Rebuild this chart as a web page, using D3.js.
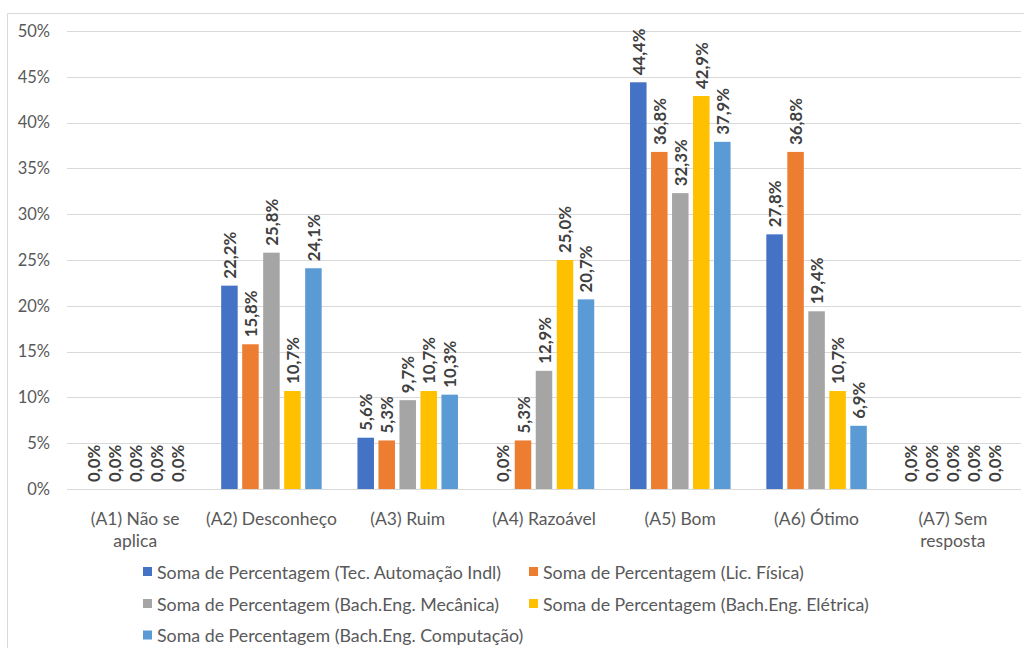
<!DOCTYPE html>
<html>
<head>
<meta charset="utf-8">
<script src="https://cdn.jsdelivr.net/npm/d3@7/dist/d3.min.js"></script>
<style>
  html, body { margin: 0; padding: 0; background: #ffffff; }
  svg { display: block; }
  text { font-family: Lato, "Open Sans", sans-serif; }
</style>
</head>
<body>
<svg id="chart" width="1024" height="648"></svg>
<script>
const categories = [
  ["(A1) Não se", "aplica"],
  ["(A2) Desconheço"],
  ["(A3) Ruim"],
  ["(A4) Razoável"],
  ["(A5) Bom"],
  ["(A6) Ótimo"],
  ["(A7) Sem", "resposta"]
];
const seriesNames = [
  "Soma de Percentagem (Tec. Automação Indl)",
  "Soma de Percentagem (Lic. Física)",
  "Soma de Percentagem (Bach.Eng. Mecânica)",
  "Soma de Percentagem (Bach.Eng. Elétrica)",
  "Soma de Percentagem (Bach.Eng. Computação)"
];
const tecAutomacao = [0.0, 22.2, 5.6, 0.0, 44.4, 27.8, 0.0];
const licFisica    = [0.0, 15.8, 5.3, 5.3, 36.8, 36.8, 0.0];
const engMecanica  = [0.0, 25.8, 9.7, 12.9, 32.3, 19.4, 0.0];
const engEletrica  = [0.0, 10.7, 10.7, 25.0, 42.9, 10.7, 0.0];
const engComputacao= [0.0, 24.1, 10.3, 20.7, 37.9, 6.9, 0.0];
const seriesValues = [tecAutomacao, licFisica, engMecanica, engEletrica, engComputacao];
const yTicks = [0, 5, 10, 15, 20, 25, 30, 35, 40, 45, 50];
const colors = ["#4472C4", "#ED7D31", "#A5A5A5", "#FFC000", "#5B9BD5"];

const svg = d3.select("#chart");

// chart border
svg.append("path")
  .attr("d", "M7.5,660 V13.5 H1030")
  .attr("fill", "none")
  .attr("stroke", "#d9d9d9")
  .attr("stroke-width", 1);

const plot = { left: 67, right: 1021, top: 31, bottom: 489 };

const x = d3.scaleBand()
  .domain(d3.range(categories.length))
  .range([plot.left, plot.right])
  .paddingInner(0).paddingOuter(0);

const groupWidth = 100.5;
const xInner = d3.scaleBand()
  .domain(d3.range(seriesNames.length))
  .range([(x.bandwidth() - groupWidth) / 2, (x.bandwidth() + groupWidth) / 2])
  .paddingInner(0.214).paddingOuter(0);

const y = d3.scaleLinear().domain([0, 50]).range([plot.bottom, plot.top]);

// gridlines
svg.append("g")
  .selectAll("line")
  .data(yTicks)
  .join("line")
  .attr("x1", plot.left).attr("x2", plot.right)
  .attr("y1", d => Math.round(y(d)) + 0.5).attr("y2", d => Math.round(y(d)) + 0.5)
  .attr("stroke", "#d9d9d9").attr("stroke-width", 1);

// y axis labels
const yAxis = d3.axisLeft(y).tickValues(yTicks).tickFormat(d => d + "%").tickSize(0).tickPadding(0);
const yg = svg.append("g").attr("transform", `translate(50,0)`).call(yAxis);
yg.select(".domain").remove();
yg.selectAll("text")
  .attr("fill", "#595959")
  .style("font-family", "Lato, 'Open Sans', sans-serif")
  .style("font-size", "16.5px");

// bars
const groups = svg.append("g")
  .selectAll("g")
  .data(seriesValues)
  .join("g")
  .attr("fill", (d, i) => colors[i]);

groups.each(function(vals, si) {
  const g = d3.select(this);
  g.selectAll("rect")
    .data(vals)
    .join("rect")
    .attr("x", (d, ci) => x(ci) + xInner(si))
    .attr("y", d => y(d))
    .attr("width", xInner.bandwidth())
    .attr("height", d => y(0) - y(d));
  g.selectAll("text")
    .data(vals)
    .join("text")
    .attr("transform", (d, ci) => {
      const cx = x(ci) + xInner(si) + xInner.bandwidth() / 2;
      return `translate(${cx},${y(d) - 7}) rotate(-90)`;
    })
    .attr("text-anchor", "start")
    .attr("dominant-baseline", "central")
    .attr("fill", "#404040")
    .style("font-size", "16.8px")
    .style("font-weight", "bold")
    .text(d => d.toFixed(1).replace(".", ",") + "%");
});

// x category labels
const xl = svg.append("g")
  .selectAll("text")
  .data(categories)
  .join("text")
  .attr("x", (d, i) => x(i) + x.bandwidth() / 2)
  .attr("y", 518)
  .attr("text-anchor", "middle")
  .attr("dominant-baseline", "central")
  .attr("fill", "#595959")
  .style("font-size", "17.5px");
xl.selectAll("tspan")
  .data(d => d)
  .join("tspan")
  .attr("x", function() { return d3.select(this.parentNode).attr("x"); })
  .attr("dy", (d, i) => i === 0 ? 0 : 22)
  .text(d => d);

// legend
const legendPos = [
  { x: 143, y: 571.5 },
  { x: 529, y: 571.5 },
  { x: 143, y: 603.5 },
  { x: 529, y: 603.5 },
  { x: 143, y: 635 }
];
const lg = svg.append("g")
  .selectAll("g")
  .data(seriesNames)
  .join("g")
  .attr("transform", (d, i) => `translate(${legendPos[i].x},${legendPos[i].y})`);
lg.append("rect")
  .attr("x", 0).attr("y", -4.5)
  .attr("width", 9).attr("height", 9)
  .attr("fill", (d, i) => colors[i]);
lg.append("text")
  .attr("x", 14).attr("y", 0)
  .attr("dominant-baseline", "central")
  .attr("fill", "#595959")
  .style("font-size", "17.8px")
  .text(d => d);
</script>
</body>
</html>
